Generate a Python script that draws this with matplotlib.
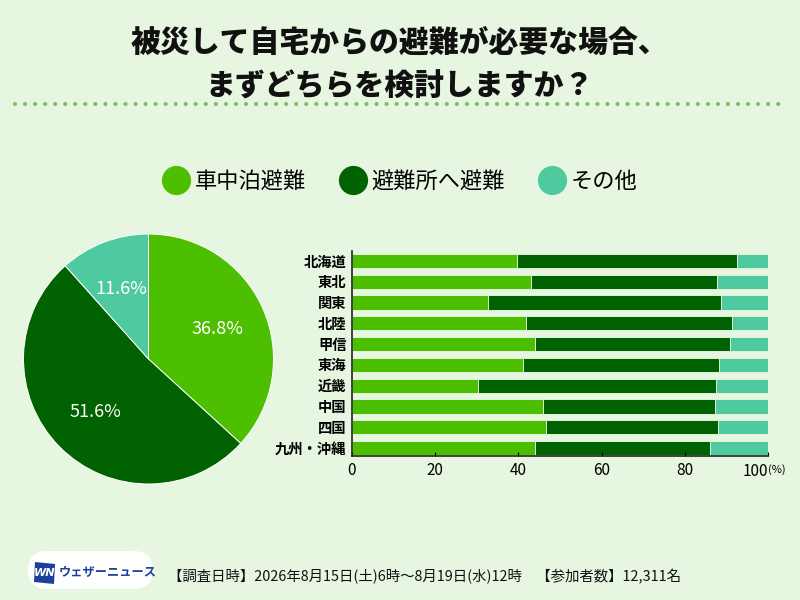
import numpy as np
import matplotlib
matplotlib.use('Agg')
import matplotlib.pyplot as plt
from matplotlib.lines import Line2D
from matplotlib.patches import FancyBboxPatch, Polygon

plt.rcParams['font.family'] = ['Noto Sans CJK JP', 'DejaVu Sans']

# Data
choices = ['車中泊避難', '避難所へ避難', 'その他']
total_share = [36.8, 51.6, 11.6]

regions = ['北海道', '東北', '関東', '北陸', '甲信', '東海', '近畿', '中国', '四国', '九州・沖縄']
car = [39.6, 43.1, 32.8, 41.9, 44.1, 41.0, 30.4, 46.0, 46.7, 44.0]
shelter = [53.0, 44.7, 55.9, 49.5, 46.8, 47.2, 57.1, 41.3, 41.2, 42.1]
other = [7.4, 12.2, 11.3, 8.6, 9.1, 11.8, 12.5, 12.7, 12.1, 13.9]

xticks = [0, 20, 40, 60, 80, 100]
xtick_labels = ['0', '20', '40', '60', '80', '']

colors = ['#4cbf00', '#006200', '#4fc9a0']
bg = '#e6f6e0'

title = '被災して自宅からの避難が必要な場合、\nまずどちらを検討しますか？'
footer = '【調査日時】2026年8月15日(土)6時～8月19日(水)12時　【参加者数】12,311名'

W, H = 800, 600
fig = plt.figure(figsize=(8, 6), dpi=100, facecolor=bg)


def fx(px):
    return px / W


def fy(py):
    return 1 - py / H


# title
fig.text(0.5, fy(64), title, ha='center', va='center', fontsize=21.5,
         fontweight='heavy', color='#111111', linespacing=1.5)

# dotted separator
fig.add_artist(Line2D([fx(15), fx(786)], [fy(104), fy(104)], color='#7dbf66',
                      linewidth=3.0, linestyle=(0, (0.01, 2.4)),
                      dash_capstyle='round', transform=fig.transFigure))

# pie
ax_pie = fig.add_axes([fx(23.5), fy(484), fx(250), 250 / H])
ax_pie.set_facecolor(bg)
wedges, texts, autotexts = ax_pie.pie(
    total_share, colors=colors, startangle=90, counterclock=False,
    autopct='%.1f%%', pctdistance=0.6,
    wedgeprops=dict(edgecolor='white', linewidth=0.7),
    textprops=dict(color='white', fontsize=13))
ax_pie.set_xlim(-1, 1)
ax_pie.set_ylim(-1, 1)
ax_pie.set_aspect('equal')

# stacked bars
ax = fig.add_axes([fx(352), fy(456), fx(416), 205 / H])
ax.set_facecolor(bg)
y = np.arange(len(regions))
left = np.zeros(len(regions))
for vals, c, lab in zip([car, shelter, other], colors, choices):
    ax.barh(y, vals, left=left, height=0.686, color=c, edgecolor='#dff5d6',
            linewidth=0.7, label=lab)
    left = left + np.array(vals)
ax.set_xlim(0, 100)
ax.set_ylim(9.38, -0.48)
ax.set_yticks(y)
ax.set_yticklabels(regions, fontsize=10.3, fontweight='bold')
ax.tick_params(axis='y', length=0, pad=4)
ax.set_xticks(xticks)
ax.set_xticklabels(xtick_labels, fontsize=11)
ax.tick_params(axis='x', direction='in', length=3, width=0.8, pad=4)
for s in ['top', 'right']:
    ax.spines[s].set_visible(False)
for s in ['left', 'bottom']:
    ax.spines[s].set_linewidth(1.2)
    ax.spines[s].set_color('#222222')
ax.annotate('100', xy=(100, 0), xycoords=('data', 'axes fraction'),
            xytext=(0, -5), textcoords='offset points', ha='right', va='top',
            fontsize=11)
ax.annotate('(%)', xy=(100, 0), xycoords=('data', 'axes fraction'),
            xytext=(0, -6), textcoords='offset points', ha='left', va='top',
            fontsize=8)

# legend
handles = [Line2D([], [], linestyle='none', marker='o', markersize=20,
                  markerfacecolor=c, markeredgecolor=c) for c in colors]
fig.legend(handles, choices, loc='center', bbox_to_anchor=(0.5, fy(181)),
           ncol=3, frameon=False, fontsize=16, handlelength=1.25,
           handletextpad=0.2, columnspacing=1.5)

# logo
fig.add_artist(FancyBboxPatch((fx(28), fy(589)), fx(125), 38 / H,
                              boxstyle='round,pad=0,rounding_size=0.024',
                              facecolor='white', edgecolor='none',
                              transform=fig.transFigure, mutation_aspect=W / H))
fig.add_artist(Polygon([(fx(35), fy(562)), (fx(55), fy(564)), (fx(54), fy(584)),
                        (fx(34), fy(582))], closed=True, facecolor='#1f3f9c',
                       edgecolor='none', transform=fig.transFigure))
fig.text(fx(44.5), fy(573), 'WN', ha='center', va='center', fontsize=8,
         fontweight='bold', style='italic', color='white', family='DejaVu Sans')
fig.text(fx(59), fy(572), 'ウェザーニュース', ha='left', va='center',
         fontsize=8.8, fontweight='bold', color='#1f3f9c')

# footer
fig.text(fx(168), fy(577), footer, ha='left', va='center', fontsize=10.4,
         color='#111111')

fig.savefig('out.png', dpi=100, facecolor=bg)
